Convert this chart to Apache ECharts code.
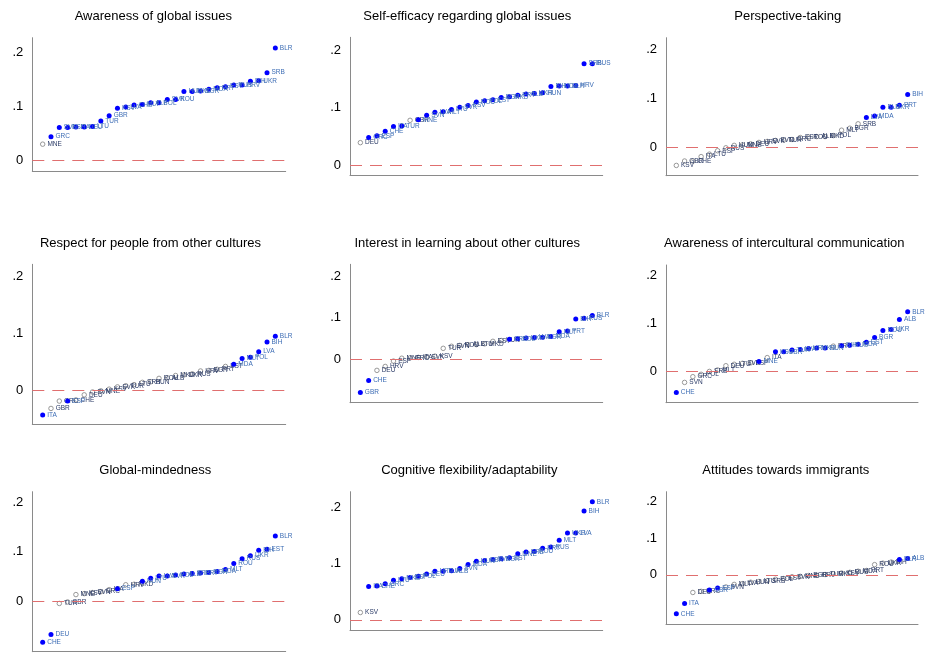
<!DOCTYPE html>
<html><head><meta charset="utf-8">
<script src="https://cdn.jsdelivr.net/npm/echarts@6/dist/echarts.min.js"></script>
<style>html,body{margin:0;padding:0;background:#fff}#c{width:926px;height:656px}</style>
</head><body><div id="c"></div>
<script>
// ---------- DATA ----------
const titles = [
  'Awareness of global issues',
  'Self-efficacy regarding global issues',
  'Perspective-taking',
  'Respect for people from other cultures',
  'Interest in learning about other cultures',
  'Awareness of intercultural communication',
  'Global-mindedness',
  'Cognitive flexibility/adaptability',
  'Attitudes towards immigrants'
];
const yTickValues = [0, 0.1, 0.2];
const yTickLabels = ['0', '.1', '.2'];

const p1Countries = ['MNE','GRC','SVN','ESP','ITA','DEU','LTU','TUR','GBR','KSV','LVA','CHE','MLT','ALB','POL','SVK','ROU','HUN','MKD','BGR','MDA','PRT','EST','RUS','HRV','BIH','UKR','SRB','BLR'];
const p1Values = [0.030,0.044,0.061,0.061,0.062,0.062,0.063,0.073,0.083,0.097,0.099,0.103,0.104,0.107,0.107,0.113,0.113,0.128,0.128,0.129,0.132,0.135,0.137,0.140,0.140,0.147,0.148,0.163,0.209];
const p1Sig = [0,1,1,1,1,1,1,1,1,1,1,1,1,1,1,1,1,1,1,1,1,1,1,1,1,1,1,1,1];

const p2Countries = ['DEU','GRC','ESP','CHE','ITA','TUR','GBR','MNE','SVN','LVA','MLT','LTU','SVK','KSV','ROU','POL','EST','BGR','MKD','PRT','ALB','UKR','HUN','BIH','MDA','BLR','HRV','SRB','RUS'];
const p2Values = [0.039,0.048,0.051,0.059,0.067,0.068,0.078,0.079,0.087,0.092,0.093,0.097,0.101,0.104,0.110,0.112,0.114,0.118,0.119,0.122,0.124,0.125,0.126,0.137,0.138,0.138,0.139,0.177,0.177];
const p2Sig = [0,1,1,1,1,1,0,1,1,1,1,1,1,1,1,1,1,1,1,1,1,1,1,1,1,1,1,1,1];

const p3Countries = ['KSV','GBR','CHE','ITA','LTU','ESP','RUS','HUN','MNE','DEU','HRV','SVK','SVN','TUR','GRC','EST','ROU','ALB','MKD','POL','MLT','BGR','SRB','LVA','MDA','BLR','UKR','PRT','BIH'];
const p3Values = [-0.037,-0.028,-0.028,-0.019,-0.014,-0.007,-0.001,0.004,0.005,0.007,0.010,0.012,0.014,0.015,0.016,0.020,0.021,0.022,0.022,0.024,0.035,0.039,0.048,0.061,0.064,0.082,0.082,0.086,0.108];
const p3Sig = [0,0,0,0,0,0,0,0,0,0,0,0,0,0,0,0,0,0,0,0,0,0,0,1,1,1,1,1,1];

const p4Countries = ['ITA','GBR','GRC','ESP','CHE','DEU','SVN','MNE','KSV','SVK','TUR','LTU','SRB','HUN','ROU','ALB','MKD','UKR','RUS','HRV','BGR','PRT','EST','MDA','MLT','POL','LVA','BIH','BLR'];
const p4Values = [-0.0435,-0.032,-0.019,-0.019,-0.017,-0.008,-0.003,-0.001,0.002,0.006,0.008,0.010,0.014,0.015,0.021,0.022,0.026,0.027,0.029,0.034,0.035,0.037,0.042,0.046,0.056,0.058,0.068,0.085,0.095];
const p4Sig = [1,0,0,1,0,0,0,0,0,0,0,0,0,0,0,0,0,0,0,0,0,0,0,1,1,1,1,1,1];

const p5Countries = ['GBR','CHE','DEU','HRV','ESP','MNE','GRC','ITA','SVK','KSV','TUR','SVN','ROU','ALB','LTU','MKD','EST','HUN','SRB','POL','UKR','LVA','BGR','MDA','MLT','PRT','BIH','RUS','BLR'];
const p5Values = [-0.081,-0.052,-0.0275,-0.018,-0.005,0.002,0.003,0.004,0.005,0.007,0.026,0.031,0.033,0.035,0.035,0.037,0.043,0.045,0.048,0.049,0.051,0.052,0.053,0.055,0.066,0.068,0.097,0.099,0.106];
const p5Sig = [1,1,0,0,0,0,0,0,0,0,0,0,0,0,0,0,0,0,1,1,1,1,1,1,1,1,1,1,1];

const p6Countries = ['CHE','SVN','GRC','POL','SRB','MLT','DEU','LTU','SVK','ESP','MNE','ITA','KSV','GBR','TUR','LVA','HRV','MKD','HUN','PRT','BIH','RUS','MDA','EST','BGR','ROU','UKR','ALB','BLR'];
const p6Values = [-0.045,-0.024,-0.012,-0.007,-0.001,0.002,0.011,0.014,0.016,0.017,0.020,0.028,0.040,0.040,0.044,0.045,0.047,0.048,0.048,0.052,0.053,0.054,0.056,0.060,0.070,0.085,0.087,0.108,0.124];
const p6Sig = [1,0,0,0,0,0,0,0,0,0,1,0,1,1,1,1,1,1,1,0,1,1,1,1,1,1,1,1,1];

const p7Countries = ['CHE','DEU','TUR','GBR','MNE','KSV','SVN','GRC','ITA','ESP','HRV','MKD','HUN','LTU','LVA','SVK','POL','ALB','SRB','PRT','BGR','MDA','MLT','ROU','RUS','UKR','BIH','EST','BLR'];
const p7Values = [-0.084,-0.068,-0.005,-0.002,0.013,0.015,0.017,0.019,0.023,0.025,0.033,0.034,0.040,0.046,0.051,0.051,0.053,0.055,0.056,0.057,0.058,0.060,0.064,0.076,0.086,0.092,0.103,0.105,0.132];
const p7Sig = [1,1,0,0,0,0,0,0,0,1,0,0,1,1,1,1,1,1,1,1,1,1,1,1,1,1,1,1,1];

const p8Countries = ['KSV','ITA','CHE','GRC','LTU','MKD','ESP','POL','DEU','HRV','TUR','ALB','SVN','MDA','HUN','GBR','SVK','BGR','EST','MNE','SRB','ROU','PRT','RUS','MLT','UKR','LVA','BIH','BLR'];
const p8Values = [0.013,0.059,0.060,0.064,0.070,0.073,0.075,0.077,0.081,0.086,0.086,0.087,0.091,0.098,0.104,0.105,0.107,0.108,0.110,0.117,0.120,0.121,0.127,0.129,0.141,0.154,0.154,0.193,0.209];
const p8Sig = [0,1,1,1,1,1,1,1,1,1,1,1,1,1,1,1,1,1,1,1,1,1,1,1,1,1,1,1,1];

const p9Countries = ['CHE','ITA','DEU','GRC','GBR','ESP','SVN','MLT','LVA','HUN','LTU','SRB','POL','EST','SVK','MNE','BGR','HRV','TUR','MKD','KSV','RUS','MDA','PRT','ROU','UKR','BIH','BLR','ALB'];
const p9Values = [-0.106,-0.078,-0.048,-0.045,-0.041,-0.036,-0.033,-0.026,-0.024,-0.020,-0.018,-0.016,-0.012,-0.010,-0.005,-0.004,-0.002,-0.001,0.001,0.003,0.005,0.007,0.010,0.012,0.028,0.032,0.035,0.042,0.045];
const p9Sig = [1,1,0,0,1,1,0,0,0,0,0,0,0,0,0,0,0,0,0,0,0,0,0,0,0,0,0,1,1];

const panelCountries = [p1Countries,p2Countries,p3Countries,p4Countries,p5Countries,p6Countries,p7Countries,p8Countries,p9Countries];
const panelValues = [p1Values,p2Values,p3Values,p4Values,p5Values,p6Values,p7Values,p8Values,p9Values];
const panelSig = [p1Sig,p2Sig,p3Sig,p4Sig,p5Sig,p6Sig,p7Sig,p8Sig,p9Sig];

// ---------- LAYOUT ----------
const layout = [
  {left:32.3, top:37.7, width:253.4, height:133.3, yMin:-0.0199, yMax:0.228, tx:153.3, ty:17.5},
  {left:350,  top:37.3, width:252.7, height:137.7, yMin:-0.0175, yMax:0.223, tx:467.3, ty:17.5},
  {left:666,  top:37.7, width:252,   height:138,   yMin:-0.058,  yMax:0.224, tx:787.7, ty:17.5},
  {left:32.3, top:264.3,width:253.4, height:159.7, yMin:-0.0594, yMax:0.222, tx:150.5, ty:244.5},
  {left:350,  top:264.3,width:252.7, height:138.4, yMin:-0.106,  yMax:0.230, tx:467.2, ty:244.5},
  {left:666,  top:265,  width:252,   height:137.7, yMin:-0.0665, yMax:0.222, tx:784.3, ty:244.5},
  {left:32.3, top:491.7,width:253.4, height:160,   yMin:-0.103,  yMax:0.222, tx:155.3, ty:471.5},
  {left:350,  top:491.7,width:252.7, height:138.3, yMin:-0.018,  yMax:0.227, tx:469.3, ty:471.5},
  {left:666,  top:491.7,width:252,   height:132.3, yMin:-0.134,  yMax:0.227, tx:785.8, ty:471.5}
];

const FONT = 'Liberation Sans, Arial, Helvetica, sans-serif';
const chart = echarts.init(document.getElementById('c'), null, {renderer:'canvas'});
const option = {animation:false, backgroundColor:'#fff', title:[], grid:[], xAxis:[], yAxis:[], series:[]};

titles.forEach((t, i) => {
  const L = layout[i];
  option.title.push({text:t, left:L.tx, top:L.ty - 7.5, textAlign:'center', padding:0,
    textStyle:{fontFamily:FONT, fontSize:13, fontWeight:'normal', color:'#000'}});
  option.grid.push({left:L.left, top:L.top, width:L.width, height:L.height});
  option.xAxis.push({type:'value', gridIndex:i, min:-1.25, max:29.25,
    axisLine:{show:true, onZero:false, lineStyle:{color:'#8a8a8a', width:1}},
    axisTick:{show:false}, axisLabel:{show:false}, splitLine:{show:false}});
  option.yAxis.push({type:'value', gridIndex:i, min:L.yMin, max:L.yMax,
    axisLine:{show:true, onZero:false, lineStyle:{color:'#8a8a8a', width:1}},
    axisTick:{show:false}, splitLine:{show:false},
    axisLabel:{customValues:yTickValues, margin:9, fontSize:13, color:'#000', fontFamily:FONT,
      formatter:(v) => { const k = yTickValues.findIndex(x => Math.abs(x - v) < 1e-9); return k >= 0 ? yTickLabels[k] : ''; }}});

  const c = panelCountries[i], v = panelValues[i], s = panelSig[i];
  const filled = [], hollow = [];
  v.forEach((val, j) => { (s[j] ? filled : hollow).push([j, val, c[j]]); });

  option.series.push({type:'scatter', xAxisIndex:i, yAxisIndex:i, data:[],
    markLine:{silent:true, symbol:['none','none'], animation:false,
      label:{show:false}, data:[{yAxis:0}],
      lineStyle:{color:'#e06f6f', type:[12,8], width:1, opacity:1}},
    z:1});
  option.series.push({type:'scatter', xAxisIndex:i, yAxisIndex:i, data:hollow,
    symbol:'circle', symbolSize:4.5,
    itemStyle:{color:'#ffffff', borderColor:'#8c8c8c', borderWidth:0.9, opacity:1},
    label:{show:true, position:'right', distance:2, formatter:p => p.data[2],
      fontSize:6.5, fontFamily:FONT, color:'#2a3a66'},
    emphasis:{disabled:true}, z:2});
  option.series.push({type:'scatter', xAxisIndex:i, yAxisIndex:i, data:filled,
    symbol:'circle', symbolSize:5,
    itemStyle:{color:'#0000ff', opacity:1},
    label:{show:true, position:'right', distance:2, formatter:p => p.data[2],
      fontSize:6.5, fontFamily:FONT, color:'#3d6db5'},
    emphasis:{disabled:true}, z:3});
});

chart.setOption(option);
</script></body></html>
